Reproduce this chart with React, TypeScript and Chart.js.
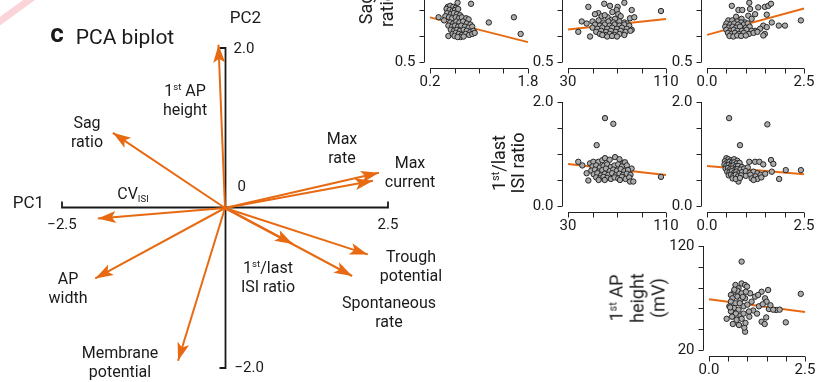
import React, { useEffect, useRef } from 'react';
import { Chart, registerables } from 'chart.js';
Chart.register(...registerables);

const ORANGE = '#e76a12';
const INK = '#1a1a1a';
const FONT_FAMILY = 'Roboto, "Noto Sans", "DejaVu Sans", sans-serif';

// ---------- PCA biplot loadings ----------
const loadingNames = ['1st AP height', 'Sag ratio', 'Max rate', 'Max current', 'CV ISI', 'AP width', 'Membrane potential', '1st/last ISI ratio', 'Trough potential', 'Spontaneous rate'];
const loadingPC1 = [-0.10, -1.72, 2.27, 2.36, -1.95, -1.99, -0.72, 1.04, 2.19, 1.95];
const loadingPC2 = [2.04, 0.94, 0.34, 0.44, -0.13, -0.88, -1.91, -0.45, -0.58, -0.85];
const pc1Ticks = [-2.5, 2.5];
const pc2Ticks = [-2.0, 2.0];
const pc1TickLabels = ['\u22122.5', '2.5'];
const pc2TickLabels = ['2.0', '0', '\u22122.0'];

// ---------- scatter panels ----------
// top row: sag ratio
const sagPanel1 = [
  [0.65, 1.07], [0.87, 1.06], [0.34, 0.93], [1.57, 0.93], [1.16, 0.88], [1.68, 0.77], [0.50, 0.75],
  [0.49, 1.03], [0.53, 1.04], [0.58, 1.03], [0.62, 1.02], [0.47, 1.01], [0.52, 1.0], [0.57, 0.99], [0.61, 1.0], [0.66, 1.01],
  [0.48, 0.97], [0.54, 0.96], [0.59, 0.97], [0.64, 0.96], [0.69, 0.95], [0.45, 0.94], [0.51, 0.93], [0.56, 0.92], [0.62, 0.93],
  [0.67, 0.92], [0.72, 0.93], [0.79, 0.92], [0.83, 0.91], [0.43, 0.9],
  [0.53, 0.88], [0.58, 0.87], [0.63, 0.89], [0.68, 0.88], [0.74, 0.89], [0.80, 0.87], [0.86, 0.86], [0.50, 0.85], [0.56, 0.84],
  [0.61, 0.85], [0.66, 0.84], [0.71, 0.85], [0.77, 0.84], [0.83, 0.83], [0.89, 0.84], [0.54, 0.81], [0.59, 0.80], [0.64, 0.81],
  [0.69, 0.80], [0.75, 0.81], [0.80, 0.80], [0.86, 0.79], [0.91, 0.80], [0.57, 0.77], [0.62, 0.78], [0.67, 0.77], [0.72, 0.76],
  [0.78, 0.77], [0.84, 0.76], [0.89, 0.77], [0.60, 0.75], [0.70, 0.74], [0.93, 0.78], [0.65, 0.74], [0.75, 0.745],
];
const sagFit1 = [[0.2, 0.929], [1.8, 0.691]];

const sagPanel2 = [
  [46.6, 1.03], [59.6, 1.06], [64.3, 1.04], [70.5, 1.03], [76, 1.07], [82, 1.0], [105.9, 0.99], [38.4, 0.79], [48, 0.745],
  [41.2, 0.89], [45.2, 0.87],
  [69.7, 1.0], [66.2, 0.98], [71, 0.96], [54.8, 0.97], [52, 0.96], [57.5, 0.94], [80.6, 0.92], [84.1, 0.93], [62.4, 0.93],
  [65.6, 0.905], [68.4, 0.915], [60, 0.95], [73, 0.94],
  [50, 0.89], [55, 0.9], [59, 0.88], [63, 0.89], [67, 0.88], [72, 0.89], [76, 0.88], [78, 0.87], [52, 0.86], [56, 0.85],
  [60, 0.86], [64, 0.85], [68, 0.86], [72, 0.85], [76, 0.86], [80, 0.85], [50, 0.83], [54, 0.82], [58, 0.83], [62, 0.82],
  [66, 0.83], [70, 0.82], [74, 0.83], [78, 0.82], [82, 0.81], [53, 0.79], [57, 0.8], [61, 0.79], [65, 0.8], [69, 0.79],
  [73, 0.8], [77, 0.79], [81, 0.8], [56, 0.77], [60, 0.76], [64, 0.77], [68, 0.76], [72, 0.77], [76, 0.76], [62, 0.745],
  [66, 0.75], [70, 0.745], [58, 0.76],
];
const sagFit2 = [[30, 0.812], [110, 0.914]];

const sagPanel3 = [
  [0.64, 1.04], [1.09, 1.07], [0.81, 1.0], [0.91, 1.0], [1.11, 1.01], [1.32, 1.025], [1.49, 1.03], [1.58, 1.04], [1.65, 1.06],
  [1.24, 0.96], [1.54, 0.955], [0.75, 0.935], [1.065, 0.945], [1.15, 0.915], [0.89, 0.915], [0.98, 0.88], [1.67, 0.88],
  [1.85, 0.85], [2.01, 0.85], [2.42, 0.9], [1.45, 0.85], [1.37, 0.82], [1.54, 0.835], [1.24, 0.8], [1.49, 0.77], [1.45, 0.755],
  [0.55, 0.9], [0.65, 0.9], [0.78, 0.89], [0.88, 0.88], [0.5, 0.87], [0.6, 0.86], [0.7, 0.87], [0.8, 0.86], [0.95, 0.86],
  [1.05, 0.87], [0.47, 0.84], [0.56, 0.83], [0.66, 0.84], [0.75, 0.83], [0.85, 0.84], [1.0, 0.83], [1.1, 0.84], [0.5, 0.81],
  [0.6, 0.8], [0.69, 0.81], [0.78, 0.8], [0.9, 0.8], [1.02, 0.81], [1.15, 0.8], [0.54, 0.78], [0.63, 0.77], [0.72, 0.78],
  [0.82, 0.77], [0.95, 0.78], [1.08, 0.77], [0.58, 0.75], [0.68, 0.745], [0.78, 0.755], [0.88, 0.75], [1.0, 0.755],
  [1.2, 0.78], [1.3, 0.79],
];
const sagFit3 = [[0, 0.761], [2.5, 1.015]];

// middle row: 1st/last ISI ratio
const isiPanel1 = [
  [60.2, 1.69], [67, 1.58], [53.4, 1.17], [38.4, 0.85], [41.7, 0.78], [45.2, 0.63], [46.6, 0.49], [105.9, 0.56],
  [48, 0.82], [50.7, 0.85], [54.8, 0.85], [58, 0.88], [60.2, 0.92], [64, 0.89], [68.4, 0.94], [72, 0.9], [75.2, 0.83],
  [76.5, 0.84], [50, 0.76], [53, 0.78], [56, 0.74], [59, 0.77], [62, 0.8], [65, 0.75], [68, 0.78], [71, 0.8], [74, 0.76],
  [78, 0.78], [81.9, 0.72], [49, 0.68], [52, 0.7], [55, 0.66], [58, 0.69], [61, 0.72], [64, 0.67], [67, 0.7], [70, 0.68],
  [73, 0.71], [76, 0.67], [79, 0.69], [51, 0.61], [54, 0.63], [57, 0.59], [60, 0.62], [63, 0.6], [66, 0.63], [69, 0.59],
  [72, 0.62], [75, 0.6], [78, 0.62], [81, 0.6], [53, 0.55], [56, 0.53], [59, 0.56], [62, 0.54], [65, 0.52], [68, 0.55],
  [71, 0.53], [74, 0.56], [77, 0.52], [80, 0.55], [72.4, 0.5], [80.6, 0.47], [83.3, 0.47], [60, 0.5], [55, 0.5],
];
const isiFit1 = [[30, 0.808], [110, 0.596]];

const isiPanel2 = [
  [0.57, 1.69], [1.555, 1.57], [0.85, 1.17], [2.03, 0.69], [2.42, 0.69], [1.86, 0.52], [1.65, 0.885], [1.71, 0.81],
  [1.09, 0.85], [1.24, 0.85], [1.35, 0.85], [1.45, 0.8], [1.67, 0.66], [0.81, 0.47],
  [0.5, 0.92], [0.55, 0.9], [0.62, 0.88], [0.7, 0.9], [0.78, 0.87], [0.46, 0.86], [0.52, 0.84], [0.58, 0.85], [0.64, 0.83],
  [0.7, 0.84], [0.76, 0.82], [0.84, 0.83], [0.45, 0.8], [0.5, 0.78], [0.56, 0.79], [0.62, 0.77], [0.68, 0.78], [0.74, 0.76],
  [0.8, 0.77], [0.9, 0.75], [0.48, 0.72], [0.54, 0.73], [0.6, 0.71], [0.66, 0.72], [0.72, 0.7], [0.78, 0.71], [0.86, 0.7],
  [0.96, 0.72], [1.05, 0.74], [0.52, 0.66], [0.58, 0.65], [0.64, 0.67], [0.7, 0.64], [0.76, 0.66], [0.82, 0.63], [0.9, 0.65],
  [1.0, 0.67], [1.1, 0.64], [1.2, 0.66], [1.3, 0.63], [0.56, 0.59], [0.62, 0.6], [0.68, 0.58], [0.74, 0.6], [0.8, 0.57],
  [0.88, 0.59], [1.0, 0.58], [1.12, 0.6], [1.25, 0.57], [1.38, 0.6], [1.5, 0.62], [0.66, 0.53], [0.74, 0.52], [0.85, 0.54],
  [1.15, 0.53], [1.3, 0.52], [1.4, 0.55], [1.2, 0.5],
];
const isiFit2 = [[0, 0.769], [2.5, 0.61]];

// bottom row: 1st AP height (mV)
const apHeightPanel = [
  [0.85, 105], [2.39, 74], [0.46, 50], [0.94, 37.6], [0.92, 41.5], [2.0, 46.6], [1.54, 77.7], [1.37, 76], [1.75, 58.5],
  [1.56, 59.4], [1.49, 51.3], [1.37, 47.2], [1.45, 45],
  [0.69, 82.5], [0.77, 79.3], [0.85, 84], [0.94, 82.5], [0.99, 81], [0.65, 76.1], [0.74, 77], [0.85, 74.5], [0.57, 72.9],
  [0.74, 71.3], [0.61, 69.7], [0.82, 68.1], [0.94, 69.7], [0.57, 66.5], [0.69, 64.9], [0.53, 62], [0.65, 60.4], [0.77, 58.8],
  [0.9, 62], [1.0, 63.6], [0.57, 57.2], [0.7, 55], [0.82, 53], [0.6, 52], [0.72, 49], [0.85, 50], [0.95, 46], [0.62, 45],
  [0.78, 44], [1.07, 74.5], [1.11, 66.5], [1.2, 71.3], [1.28, 72.9], [1.46, 69.7], [1.5, 66.5], [1.67, 58.8], [1.84, 58.8],
  [1.15, 58], [1.25, 55], [1.05, 52], [1.3, 62], [1.4, 64], [1.6, 63], [0.88, 71], [0.66, 78], [0.96, 76], [1.04, 57],
  [0.9, 55], [0.55, 61], [0.8, 65],
];
const apHeightFit = [[0, 68.7], [2.5, 56.5]];

const ticksFrom02to18 = [0.2, 0.6, 1.0, 1.4, 1.8];
const ticksFrom30to110 = [30, 50, 70, 90, 110];
const ticksFrom0to25 = [0, 0.5, 1.0, 1.5, 2.0, 2.5];
const sagTicks = [0.5, 0.75, 1.0, 1.25, 1.5];
const isiTicks = [0, 0.5, 1.0, 1.5, 2.0];
const apTicks = [20, 40, 60, 80, 100, 120];

// layout (pixel boxes of each plotting area)
const panels = [
  { points: sagPanel1, fit: sagFit1, xTicks: ticksFrom02to18, yTicks: sagTicks, xLabels: ['0.2', '1.8'], yLabels: ['0.5', '1.5'], box: { left: 430, right: 528, top: -42, bottom: 62 } },
  { points: sagPanel2, fit: sagFit2, xTicks: ticksFrom30to110, yTicks: sagTicks, xLabels: ['30', '110'], yLabels: ['0.5', '1.5'], box: { left: 568, right: 666, top: -42, bottom: 62 } },
  { points: sagPanel3, fit: sagFit3, xTicks: ticksFrom0to25, yTicks: sagTicks, xLabels: ['0.0', '2.5'], yLabels: ['0.5', '1.5'], box: { left: 707, right: 804, top: -42, bottom: 62 } },
  { points: isiPanel1, fit: isiFit1, xTicks: ticksFrom30to110, yTicks: isiTicks, xLabels: ['30', '110'], yLabels: ['0.0', '2.0'], box: { left: 568, right: 666, top: 102, bottom: 206 } },
  { points: isiPanel2, fit: isiFit2, xTicks: ticksFrom0to25, yTicks: isiTicks, xLabels: ['0.0', '2.5'], yLabels: ['0.0', '2.0'], box: { left: 707, right: 804, top: 102, bottom: 206 } },
  { points: apHeightPanel, fit: apHeightFit, xTicks: ticksFrom0to25, yTicks: apTicks, xLabels: ['0.0', '2.5'], yLabels: ['20', '120'], box: { left: 709, right: 805, top: 246, bottom: 350 } },
];

function Biplot() {
  const ref = useRef<HTMLCanvasElement>(null);
  useEffect(() => {
    const datasets: any[] = loadingNames.map((name, i) => ({
      type: 'line',
      label: name,
      data: [{ x: 0, y: 0 }, { x: loadingPC1[i], y: loadingPC2[i] }],
      borderColor: ORANGE,
      borderWidth: 2,
      pointRadius: 0,
      fill: false,
      clip: false,
    }));
    const axesPlugin = {
      id: 'pcaAxes',
      beforeDatasetsDraw(chart: any) {
        const ctx = chart.ctx;
        const xs = chart.scales.x, ys = chart.scales.y;
        const x0 = Math.round(xs.getPixelForValue(0)) + 0.5;
        const y0 = Math.round(ys.getPixelForValue(0)) - 0.5;
        const xl = xs.getPixelForValue(pc1Ticks[0]), xr = xs.getPixelForValue(pc1Ticks[1]);
        const yt = ys.getPixelForValue(pc2Ticks[1]), yb = ys.getPixelForValue(pc2Ticks[0]);
        ctx.save();
        ctx.strokeStyle = INK;
        ctx.lineWidth = 1.8;
        ctx.beginPath();
        ctx.moveTo(xl, y0 - 6); ctx.lineTo(xl, y0); ctx.lineTo(xr, y0); ctx.lineTo(xr, y0 - 6);
        ctx.moveTo(x0 - 6, yt); ctx.lineTo(x0, yt); ctx.lineTo(x0, yb); ctx.lineTo(x0 - 6, yb);
        ctx.stroke();
        ctx.fillStyle = INK;
        ctx.font = `15px ${FONT_FAMILY}`;
        ctx.textBaseline = 'middle';
        ctx.textAlign = 'center';
        ctx.fillText(pc1TickLabels[0], xl, y0 + 18);
        ctx.fillText(pc1TickLabels[1], xr, y0 + 18);
        ctx.textAlign = 'left';
        ctx.fillText(pc2TickLabels[0], x0 + 8, yt + 1);
        ctx.fillText(pc2TickLabels[1], x0 + 12, y0 - 20);
        ctx.fillText(pc2TickLabels[2], x0 + 9, yb);
        ctx.font = `17px ${FONT_FAMILY}`;
        ctx.textAlign = 'right';
        ctx.fillText('PC1', xl - 18, y0 - 4);
        ctx.textAlign = 'center';
        ctx.fillText('PC2', x0 + 20, yt - 29);
        ctx.restore();
      },
    };
    const arrowPlugin = {
      id: 'arrowHeads',
      afterDatasetsDraw(chart: any) {
        const ctx = chart.ctx;
        chart.data.datasets.forEach((_: any, i: number) => {
          const meta = chart.getDatasetMeta(i);
          const a = meta.data[0], b = meta.data[1];
          const ang = Math.atan2(b.y - a.y, b.x - a.x);
          const L = 18, W = 6;
          ctx.save();
          ctx.translate(b.x, b.y);
          ctx.rotate(ang);
          ctx.beginPath();
          ctx.moveTo(0, 0);
          ctx.lineTo(-L, -W);
          ctx.lineTo(-L + 4, 0);
          ctx.lineTo(-L, W);
          ctx.closePath();
          ctx.fillStyle = ORANGE;
          ctx.fill();
          ctx.restore();
        });
      },
    };
    const chart = new Chart(ref.current as HTMLCanvasElement, {
      type: 'line',
      data: { datasets },
      options: {
        responsive: false,
        animation: false,
        events: [],
        layout: { padding: { left: 62, right: 72, top: 48, bottom: 14 } },
        scales: {
          x: { type: 'linear', min: pc1Ticks[0], max: pc1Ticks[1], display: false },
          y: { type: 'linear', min: pc2Ticks[0], max: pc2Ticks[1], display: false },
        },
        plugins: { legend: { display: false }, tooltip: { enabled: false } },
      } as any,
      plugins: [axesPlugin, arrowPlugin],
    });
    return () => chart.destroy();
  }, []);
  return <canvas ref={ref} width={460} height={382} style={{ position: 'absolute', left: 0, top: 0, width: 460, height: 382 }} />;
}

function ScatterPanel({ spec }: { spec: any }) {
  const ref = useRef<HTMLCanvasElement>(null);
  const padL = 52, padR = 14, padT = 12, padB = 34;
  const box = spec.box;
  const w = box.right - box.left + padL + padR;
  const h = box.bottom - box.top + padT + padB;
  useEffect(() => {
    const xt: number[] = spec.xTicks, yt: number[] = spec.yTicks;
    const axisPlugin = {
      id: 'panelAxes',
      beforeDatasetsDraw(chart: any) {
        const ctx = chart.ctx;
        const xs = chart.scales.x, ys = chart.scales.y;
        const area = chart.chartArea;
        const ax = Math.round(area.left - 6) + 0.5;
        const ay = Math.round(area.bottom + 6) + 0.5;
        ctx.save();
        ctx.strokeStyle = '#222';
        ctx.lineWidth = 1;
        ctx.beginPath();
        ctx.moveTo(ax, ys.getPixelForValue(yt[0]));
        ctx.lineTo(ax, ys.getPixelForValue(yt[yt.length - 1]));
        yt.forEach((v) => {
          const py = Math.round(ys.getPixelForValue(v)) + 0.5;
          ctx.moveTo(ax, py); ctx.lineTo(ax - 5, py);
        });
        ctx.moveTo(xs.getPixelForValue(xt[0]), ay);
        ctx.lineTo(xs.getPixelForValue(xt[xt.length - 1]), ay);
        xt.forEach((v) => {
          const px = Math.round(xs.getPixelForValue(v)) + 0.5;
          ctx.moveTo(px, ay); ctx.lineTo(px, ay + 5);
        });
        ctx.stroke();
        ctx.fillStyle = INK;
        ctx.font = `15px ${FONT_FAMILY}`;
        ctx.textBaseline = 'middle';
        ctx.textAlign = 'right';
        ctx.fillText(spec.yLabels[0], ax - 9, ys.getPixelForValue(yt[0]));
        ctx.fillText(spec.yLabels[1], ax - 9, ys.getPixelForValue(yt[yt.length - 1]));
        ctx.textAlign = 'center';
        ctx.fillText(spec.xLabels[0], xs.getPixelForValue(xt[0]), ay + 14);
        ctx.fillText(spec.xLabels[1], xs.getPixelForValue(xt[xt.length - 1]), ay + 14);
        ctx.restore();
      },
    };
    const chart = new Chart(ref.current as HTMLCanvasElement, {
      type: 'scatter',
      data: {
        datasets: [
          {
            type: 'line',
            data: spec.fit.map(([x, y]: number[]) => ({ x, y })),
            borderColor: ORANGE,
            borderWidth: 2,
            pointRadius: 0,
            order: 2,
            clip: false,
          },
          {
            type: 'scatter',
            data: spec.points.map(([x, y]: number[]) => ({ x, y })),
            backgroundColor: '#ababab',
            borderColor: '#262626',
            borderWidth: 1,
            pointRadius: 2.7,
            order: 1,
            clip: false,
          },
        ],
      } as any,
      options: {
        responsive: false,
        animation: false,
        events: [],
        layout: { padding: { left: padL, right: padR, top: padT, bottom: padB } },
        scales: {
          x: { type: 'linear', min: xt[0], max: xt[xt.length - 1], display: false },
          y: { type: 'linear', min: yt[0], max: yt[yt.length - 1], display: false },
        },
        plugins: { legend: { display: false }, tooltip: { enabled: false } },
      } as any,
      plugins: [axisPlugin],
    });
    return () => chart.destroy();
  }, []);
  return (
    <canvas
      ref={ref}
      width={w}
      height={h}
      style={{ position: 'absolute', left: box.left - padL, top: box.top - padT, width: w, height: h }}
    />
  );
}

const Sup = ({ children }: any) => (
  <span style={{ fontSize: '0.6em', verticalAlign: '0.6em', lineHeight: 0 }}>{children}</span>
);
const Sub = ({ children }: any) => (
  <span style={{ fontSize: '0.6em', verticalAlign: '-0.35em', lineHeight: 0 }}>{children}</span>
);

function Label({ x, y, children, size = 16, lh = 19, rotate = false, weight = 400 }: any) {
  return (
    <div
      style={{
        position: 'absolute',
        left: x,
        top: y,
        transform: `translate(-50%, -50%)${rotate ? ' rotate(-90deg)' : ''}`,
        fontSize: size,
        lineHeight: `${lh}px`,
        fontWeight: weight,
        textAlign: 'center',
        whiteSpace: 'nowrap',
        color: INK,
      }}
    >
      {children}
    </div>
  );
}

export default function App() {
  return (
    <div
      style={{
        position: 'absolute',
        left: 0,
        top: 0,
        width: 830,
        height: 382,
        overflow: 'hidden',
        background: '#fff',
        fontFamily: FONT_FAMILY,
      }}
    >
      <div style={{ position: 'absolute', left: -6, top: 6, width: 44, height: 7, background: 'rgba(246,176,186,0.55)', transform: 'rotate(-36deg)' }} />
      <Biplot />
      {panels.map((p, i) => (
        <ScatterPanel key={i} spec={p} />
      ))}
      <Label x={57} y={33} size={26} weight={700} lh={26}>c</Label>
      <Label x={125} y={37} size={21} lh={22}>PCA biplot</Label>

      <Label x={185} y={100}>1<Sup>st</Sup> AP<br />height</Label>
      <Label x={87} y={132}>Sag<br />ratio</Label>
      <Label x={342} y={148}>Max<br />rate</Label>
      <Label x={410} y={172}>Max<br />current</Label>
      <Label x={133} y={193}>CV<Sub>ISI</Sub></Label>
      <Label x={68} y={288}>AP<br />width</Label>
      <Label x={268} y={277}>1<Sup>st</Sup>/last<br />ISI ratio</Label>
      <Label x={411} y={266}>Trough<br />potential</Label>
      <Label x={389} y={312}>Spontaneous<br />rate</Label>
      <Label x={120} y={362}>Membrane<br />potential</Label>

      <Label x={376} y={9} size={18} lh={21} rotate>Sag<br />ratio</Label>
      <Label x={508} y={163} size={18} lh={19} rotate>1<Sup>st</Sup>/last<br />ISI ratio</Label>
      <Label x={637} y={298} size={18} lh={21} rotate>1<Sup>st</Sup> AP<br />height<br />(mV)</Label>
    </div>
  );
}
